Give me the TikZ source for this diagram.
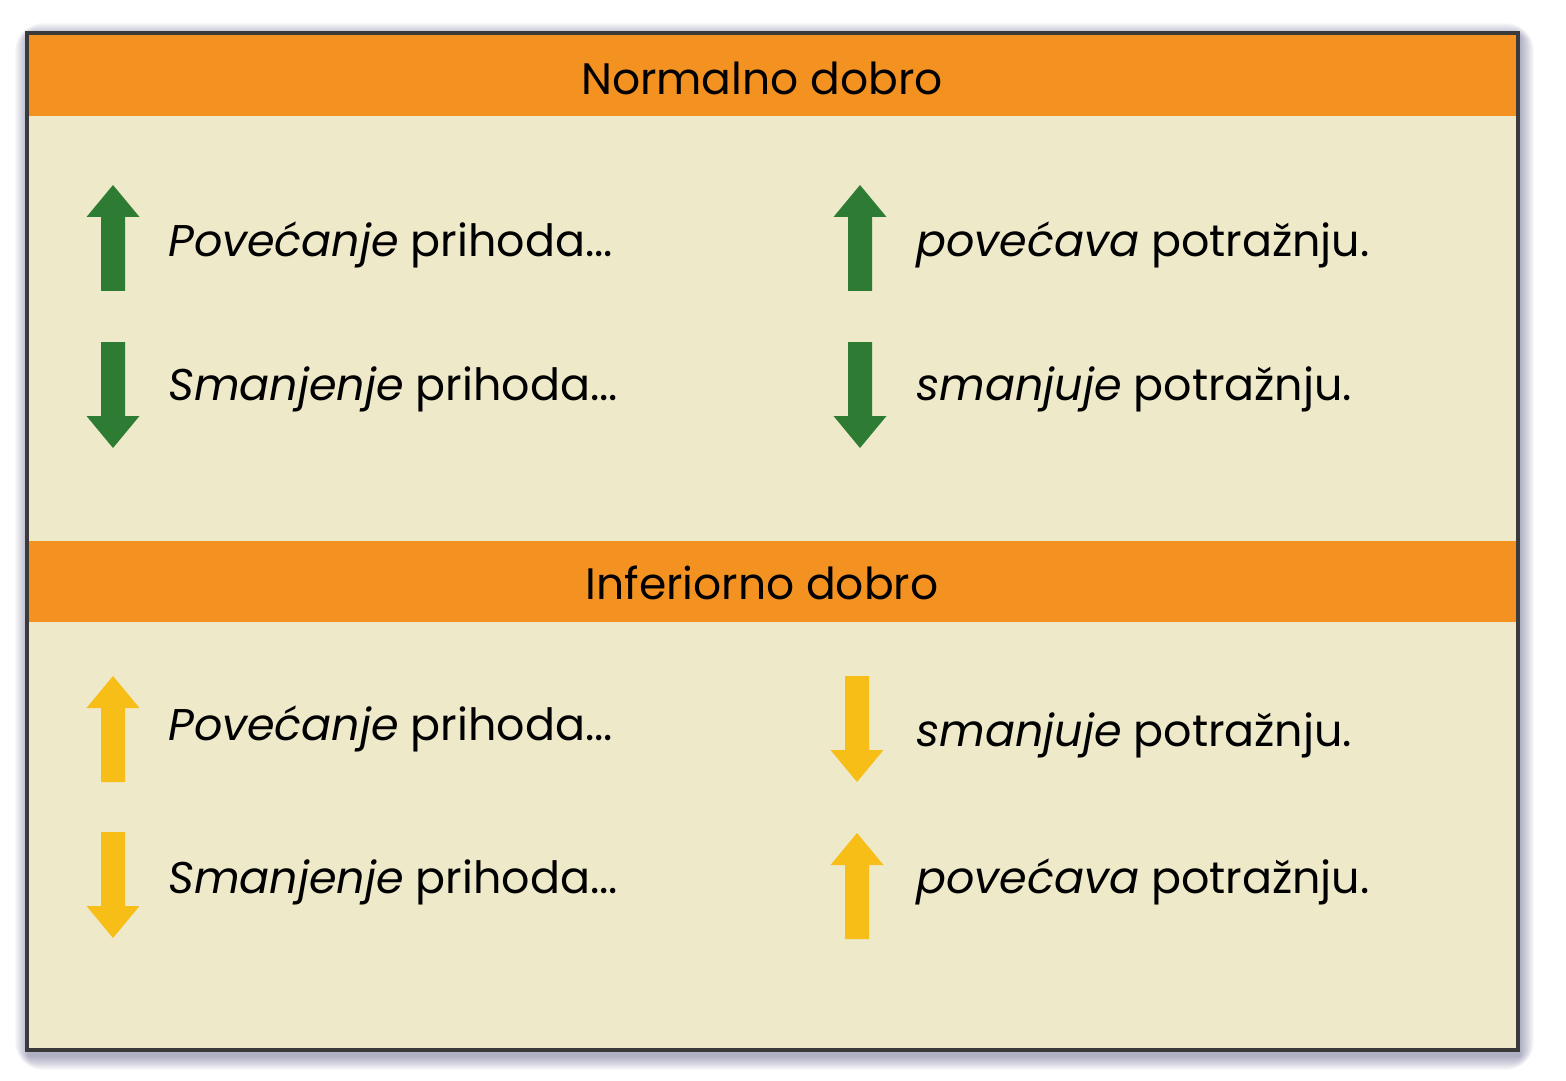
\documentclass[tikz,border=0pt]{standalone}
\usepackage{fontspec}
\setmainfont{Poppins}
\begin{document}
\definecolor{cream}{HTML}{EEE9C9}
\definecolor{bandorange}{HTML}{F39121}
\definecolor{arrgreen}{HTML}{2E7B34}
\definecolor{arryellow}{HTML}{F6BE17}
\definecolor{framegray}{HTML}{3A3A3A}
\begin{tikzpicture}[x=0.5pt,y=-0.5pt,
  arrowup/.pic={\fill[pic actions] (-12,53) -- (-12,-21) -- (-26.5,-21) -- (0,-53)
      -- (26.5,-21) -- (12,-21) -- (12,53) -- cycle;},
  arrowdown/.pic={\fill[pic actions] (-12,-53) -- (-12,21) -- (-26.5,21) -- (0,53)
      -- (26.5,21) -- (12,21) -- (12,-53) -- cycle;},
  bandtitle/.style={font=\fontsize{22}{26}\selectfont, text=black, inner sep=0pt},
  rowtext/.style={font=\fontsize{22.2}{26}\selectfont, text=black, anchor=west, inner sep=0pt},
  band/.style={fill=bandorange},
]
\useasboundingbox (0,0) rectangle (1566,1080);
\fill[white] (0,0) rectangle (1566,1080);

% soft drop shadow around the panel
\foreach \i in {1,...,14}{
  \fill[black!70!blue, opacity=0.022, rounded corners=\i]
    (27-\i+2,33-\i+4) rectangle (1518+\i+2,1050+\i+6);
}

% panel
\fill[cream] (27,33) rectangle (1518,1050);
\fill[band] (27,35) rectangle (1518,116);
\fill[band] (27,541) rectangle (1518,622);
\draw[framegray, line width=1.6pt] (27,33) rectangle (1518,1050);

% headings
\node[bandtitle] (hnormal) at (762,78) {Normalno dobro};
\node[bandtitle] (hinferior) at (762,583) {Inferiorno dobro};

% normal good rows
\pic[fill=arrgreen] at (113,238) {arrowup};
\pic[fill=arrgreen] at (113,395) {arrowdown};
\pic[fill=arrgreen] at (860,238) {arrowup};
\pic[fill=arrgreen] at (860,395) {arrowdown};
\node[rowtext] (n1) at (168,245) {\textit{Povećanje} prihoda...};
\node[rowtext] (n2) at (168,389) {\textit{Smanjenje} prihoda...};
\node[rowtext] (n3) at (916,245) {\textit{povećava} potražnju.};
\node[rowtext] (n4) at (916,389) {\textit{smanjuje} potražnju.};

% inferior good rows
\pic[fill=arryellow] at (113,729) {arrowup};
\pic[fill=arryellow] at (113,885) {arrowdown};
\pic[fill=arryellow] at (857,729) {arrowdown};
\pic[fill=arryellow] at (857,886) {arrowup};
\node[rowtext] (i1) at (168,729) {\textit{Povećanje} prihoda...};
\node[rowtext] (i2) at (168,882) {\textit{Smanjenje} prihoda...};
\node[rowtext] (i3) at (916,735) {\textit{smanjuje} potražnju.};
\node[rowtext] (i4) at (916,882) {\textit{povećava} potražnju.};
\end{tikzpicture}
\end{document}
